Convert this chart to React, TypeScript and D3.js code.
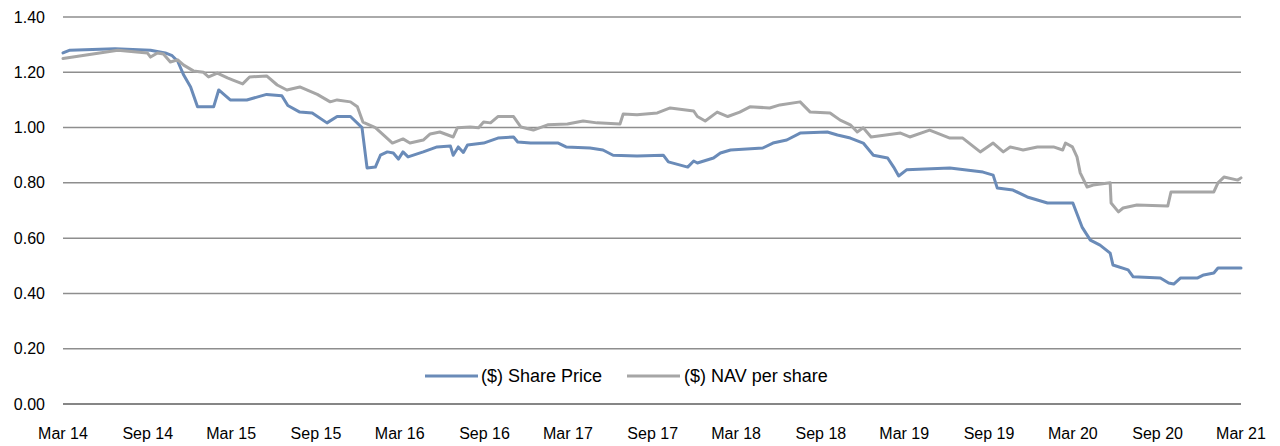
import React from "react";
import * as d3 from "d3";

// ($) Share Price
const priceDates = [
  "2014-03-01", "2014-03-16", "2014-06-22", "2014-09-07", "2014-10-09", "2014-10-24", "2014-11-05",
  "2014-11-18", "2014-12-03", "2014-12-18", "2015-01-22", "2015-02-02", "2015-02-27", "2015-04-04",
  "2015-04-26", "2015-05-17", "2015-06-19", "2015-07-02", "2015-07-28", "2015-08-24", "2015-09-25",
  "2015-10-17", "2015-11-15", "2015-12-10", "2015-12-21", "2016-01-08", "2016-01-19", "2016-02-03",
  "2016-02-16", "2016-02-27", "2016-03-08", "2016-03-19", "2016-04-21", "2016-05-21", "2016-06-19",
  "2016-06-25", "2016-07-06", "2016-07-17", "2016-07-26", "2016-08-30", "2016-09-30", "2016-11-03",
  "2016-11-12", "2016-12-10", "2017-02-08", "2017-02-25", "2017-04-18", "2017-05-16", "2017-06-07",
  "2017-07-29", "2017-09-24", "2017-10-05", "2017-11-16", "2017-11-29", "2017-12-07", "2018-01-11",
  "2018-01-26", "2018-02-17", "2018-04-28", "2018-05-20", "2018-06-19", "2018-07-18", "2018-09-15",
  "2018-10-07", "2018-11-04", "2018-12-02", "2018-12-24", "2019-01-24", "2019-02-06", "2019-02-17",
  "2019-03-06", "2019-06-08", "2019-08-19", "2019-09-10", "2019-09-19", "2019-10-23", "2019-11-23",
  "2020-01-06", "2020-03-01", "2020-03-21", "2020-04-08", "2020-04-29", "2020-05-21", "2020-05-27",
  "2020-06-29", "2020-07-10", "2020-09-07", "2020-09-25", "2020-10-06", "2020-10-21", "2020-11-27",
  "2020-12-10", "2021-01-01", "2021-01-10", "2021-03-01",
];
const priceValues = [
  1.27, 1.28, 1.285, 1.28, 1.27, 1.26, 1.24,
  1.19, 1.147, 1.075, 1.075, 1.136, 1.1, 1.1,
  1.11, 1.12, 1.115, 1.08, 1.056, 1.053, 1.017,
  1.04, 1.04, 1.0, 0.854, 0.857, 0.9, 0.912,
  0.908, 0.886, 0.912, 0.894, 0.912, 0.93, 0.933,
  0.9, 0.93, 0.91, 0.937, 0.944, 0.962, 0.966,
  0.948, 0.944, 0.944, 0.93, 0.926, 0.919, 0.9,
  0.897, 0.9, 0.876, 0.857, 0.879, 0.872, 0.89,
  0.908, 0.919, 0.926, 0.944, 0.955, 0.98, 0.984,
  0.973, 0.962, 0.944, 0.9, 0.89, 0.857, 0.825,
  0.847, 0.854, 0.839, 0.828, 0.781, 0.774, 0.749,
  0.727, 0.727, 0.64, 0.593, 0.575, 0.546, 0.503,
  0.485, 0.46, 0.456, 0.438, 0.434, 0.456, 0.456,
  0.467, 0.474, 0.492, 0.492,
];

// ($) NAV per share
const navDates = [
  "2014-03-01", "2014-06-28", "2014-08-31", "2014-09-07", "2014-09-22", "2014-10-05", "2014-10-20",
  "2014-11-05", "2014-11-18", "2014-12-09", "2014-12-31", "2015-01-11", "2015-01-30", "2015-02-21",
  "2015-03-05", "2015-03-26", "2015-04-10", "2015-05-17", "2015-06-09", "2015-06-30", "2015-07-28",
  "2015-09-04", "2015-10-02", "2015-10-17", "2015-11-15", "2015-11-30", "2015-12-12", "2016-01-08",
  "2016-01-26", "2016-02-14", "2016-03-08", "2016-03-23", "2016-04-21", "2016-05-06", "2016-05-27",
  "2016-06-25", "2016-07-04", "2016-08-01", "2016-08-19", "2016-08-30", "2016-09-14", "2016-09-30",
  "2016-11-03", "2016-11-19", "2016-12-16", "2017-01-16", "2017-02-28", "2017-04-03", "2017-05-03",
  "2017-06-22", "2017-06-29", "2017-07-29", "2017-09-11", "2017-10-09", "2017-11-29", "2017-12-07",
  "2017-12-24", "2018-01-19", "2018-02-11", "2018-03-09", "2018-03-31", "2018-05-13", "2018-06-04",
  "2018-07-18", "2018-08-09", "2018-09-21", "2018-10-13", "2018-11-04", "2018-11-19", "2018-12-02",
  "2018-12-19", "2019-02-21", "2019-03-13", "2019-04-25", "2019-06-08", "2019-07-06", "2019-08-13",
  "2019-09-10", "2019-10-02", "2019-10-17", "2019-11-14", "2019-12-15", "2020-01-19", "2020-02-08",
  "2020-02-14", "2020-02-29", "2020-03-10", "2020-03-17", "2020-04-01", "2020-04-14", "2020-05-21",
  "2020-05-23", "2020-06-08", "2020-06-18", "2020-07-18", "2020-09-23", "2020-09-30", "2021-01-01",
  "2021-01-10", "2021-01-23", "2021-02-22", "2021-03-01",
];
const navValues = [
  1.25, 1.28, 1.27, 1.255, 1.27, 1.266, 1.237,
  1.245, 1.226, 1.205, 1.2, 1.183, 1.197, 1.18,
  1.172, 1.158, 1.183, 1.187, 1.154, 1.136, 1.147,
  1.12, 1.093, 1.1, 1.093, 1.075, 1.02, 1.0,
  0.973, 0.944, 0.959, 0.944, 0.955, 0.977, 0.984,
  0.966, 0.999, 1.002, 0.999, 1.02, 1.017, 1.04,
  1.04, 1.002, 0.991, 1.01, 1.013, 1.024, 1.017,
  1.013, 1.049, 1.046, 1.053, 1.071, 1.06, 1.04,
  1.024, 1.056, 1.04, 1.056, 1.075, 1.071, 1.082,
  1.093, 1.056, 1.053, 1.027, 1.01, 0.984, 0.999,
  0.966, 0.98, 0.966, 0.991, 0.962, 0.962, 0.912,
  0.944, 0.912, 0.93, 0.919, 0.93, 0.93, 0.919,
  0.944, 0.93, 0.894, 0.836, 0.785, 0.792, 0.8,
  0.727, 0.695, 0.709, 0.72, 0.716, 0.767, 0.767,
  0.8, 0.821, 0.81, 0.818,
];

const xTickDates = [
  "2014-03-01", "2014-09-01", "2015-03-01", "2015-09-01", "2016-03-01", "2016-09-01", "2017-03-01", "2017-09-01",
  "2018-03-01", "2018-09-01", "2019-03-01", "2019-09-01", "2020-03-01", "2020-09-01", "2021-03-01",
];
const yTicks = [0, 0.2, 0.4, 0.6, 0.8, 1.0, 1.2, 1.4];

const seriesNames = ["($) Share Price", "($) NAV per share"];
const seriesColors = ["#6a8bb8", "#a6a6a6"];

const W = 1280;
const H = 446;
const margin = { top: 17, right: 39, bottom: 42, left: 63 };
const FONT = "'Liberation Sans', Arial, sans-serif";

const parse = d3.timeParse("%Y-%m-%d");

export default function App() {
  const x = d3
    .scaleTime()
    .domain([parse("2014-03-01")!, parse("2021-03-01")!])
    .range([margin.left, W - margin.right]);
  const y = d3.scaleLinear().domain([0, 1.4]).range([H - margin.bottom, margin.top]);

  const series = [
    priceDates.map((d, i) => ({ date: parse(d)!, value: priceValues[i] })),
    navDates.map((d, i) => ({ date: parse(d)!, value: navValues[i] })),
  ];

  const line = d3
    .line<{ date: Date; value: number }>()
    .x((d) => x(d.date))
    .y((d) => y(d.value));

  const fmtX = d3.timeFormat("%b %y");
  const fmtY = d3.format(".2f");

  // legend layout
  const legendY = 376;
  const legendItems = [
    { x0: 425, x1: 478, tx: 481 },
    { x0: 627, x1: 680, tx: 684 },
  ];

  return (
    <svg
      width={W}
      height={H}
      style={{ position: "absolute", left: 0, top: 0, background: "#fff" }}
      fontFamily={FONT}
    >
      {yTicks.map((t) => (
        <g key={t}>
          <line
            x1={margin.left}
            x2={W - margin.right}
            y1={y(t)}
            y2={y(t)}
            stroke={t === 0 ? "#868686" : "#8e8e8e"}
            strokeWidth={t === 0 ? 2 : 1.5}
          />
          <text x={45} y={y(t)} dy="0.35em" textAnchor="end" fontSize={16} fill="#000">
            {fmtY(t)}
          </text>
        </g>
      ))}

      {xTickDates.map((d) => {
        const dt = parse(d)!;
        return (
          <text key={d} x={x(dt)} y={439} textAnchor="middle" fontSize={16} fill="#000">
            {fmtX(dt)}
          </text>
        );
      })}

      {series.map((s, i) => (
        <path
          key={seriesNames[i]}
          d={line(s) ?? ""}
          fill="none"
          stroke={seriesColors[i]}
          strokeWidth={3}
          strokeLinejoin="round"
          strokeLinecap="round"
        />
      ))}

      {seriesNames.map((name, i) => (
        <g key={name}>
          <line
            x1={legendItems[i].x0}
            x2={legendItems[i].x1}
            y1={legendY}
            y2={legendY}
            stroke={seriesColors[i]}
            strokeWidth={3}
          />
          <text x={legendItems[i].tx} y={legendY} dy="0.35em" fontSize={18} fill="#000">
            {name}
          </text>
        </g>
      ))}
    </svg>
  );
}
